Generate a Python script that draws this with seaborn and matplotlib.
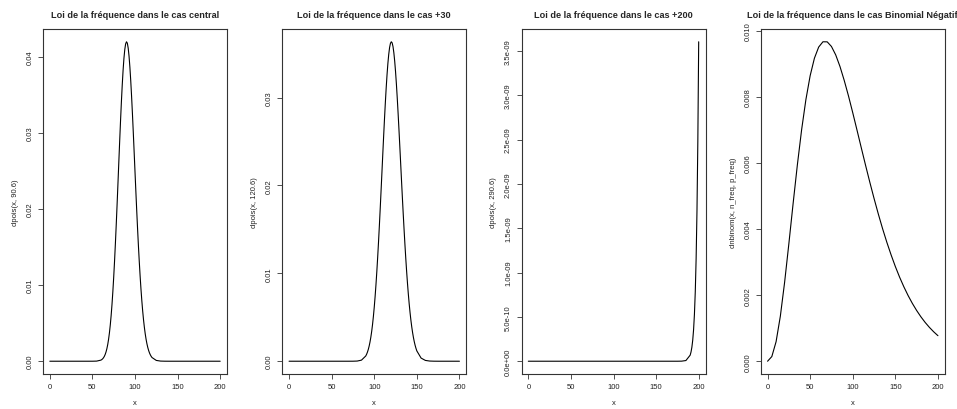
import matplotlib
matplotlib.use("Agg")
import matplotlib.pyplot as plt
import seaborn as sns

sns.set_style("white")
plt.rcParams['font.family'] = ['Liberation Sans', 'DejaVu Sans']

# dpois(x, 90.6): sparse in the tails, every integer around the peak
x_central = list(range(0, 60, 5)) + list(range(60, 121)) + list(range(125, 205, 5))
y_central = ([0] * 10 + [1.1e-6, 1.56e-5] +
             [1.45e-4, 2.15e-4, 3.14e-4, 4.51e-4, 6.39e-4, 8.91e-4, 1.223e-3, 1.654e-3,
              2.204e-3, 2.894e-3, 3.746e-3, 4.780e-3, 6.015e-3, 7.465e-3, 9.139e-3,
              0.01104, 0.01316, 0.01549, 0.01799, 0.02063, 0.02336, 0.02613, 0.02887,
              0.03151, 0.03399, 0.03623, 0.03817, 0.03975, 0.04092, 0.04166, 0.04194,
              0.04176, 0.04112, 0.04006, 0.03861, 0.03682, 0.03475, 0.03246, 0.03001,
              0.02746, 0.02488, 0.02232, 0.01982, 0.01744, 0.01519, 0.01311, 0.011205,
              0.009488, 0.007959, 0.006615, 0.005448, 0.004447, 0.003597, 0.002884,
              0.002292, 0.001806, 0.001411, 0.001092, 8.39e-4, 6.39e-4, 4.82e-4] +
             [1.05e-4, 1.85e-5, 2.7e-6] + [0] * 13)

# dpois(x, 120.6)
x_plus30 = list(range(0, 90, 5)) + list(range(90, 151)) + list(range(155, 205, 5))
y_plus30 = ([0] * 15 + [2.1e-6, 1.89e-5, 1.23e-4] +
            [5.94e-4, 7.87e-4, 1.032e-3, 1.338e-3, 1.716e-3, 2.178e-3, 2.736e-3, 3.402e-3,
             4.187e-3, 5.101e-3, 6.152e-3, 7.346e-3, 8.686e-3, 0.01017, 0.01179, 0.01354,
             0.01540, 0.01736, 0.01939, 0.02145, 0.02352, 0.02556, 0.02752, 0.02937,
             0.03107, 0.03258, 0.03387, 0.03491, 0.03568, 0.03616, 0.03634, 0.03622,
             0.03580, 0.03510, 0.03414, 0.03294, 0.03153, 0.02994, 0.02821, 0.02637,
             0.02446, 0.02252, 0.02057, 0.01865, 0.01679, 0.01500, 0.01330, 0.01171,
             0.01023, 0.008876, 0.007646, 0.006540, 0.005554, 0.004684, 0.003923,
             0.003263, 0.002695, 0.002211, 0.001802, 0.001458, 0.001172] +
            [3.57e-4, 9.24e-5, 2.05e-5, 3.9e-6] + [0] * 6)

# dpois(x, 290.6): only the far right end leaves zero
x_plus200 = list(range(0, 190, 5)) + list(range(190, 201))
y_plus200 = [0] * 36 + [7.7e-13, 7.7e-12,
             6.83e-11, 1.040e-10, 1.574e-10, 2.37e-10, 3.55e-10, 5.29e-10,
             7.84e-10, 1.157e-9, 1.698e-9, 2.480e-9, 3.603e-9]

# dnbinom(x, n_freq, p_freq)
x_nbinom = list(range(0, 205, 5))
y_nbinom = [3.2e-6, 1.442e-4, 5.935e-4, 1.364e-3, 2.386e-3, 3.556e-3, 4.772e-3, 5.943e-3,
            7.006e-3, 7.912e-3, 8.635e-3, 9.163e-3, 9.500e-3, 9.660e-3, 9.658e-3, 9.518e-3,
            9.263e-3, 8.913e-3, 8.491e-3, 8.022e-3, 7.515e-3, 6.989e-3, 6.457e-3, 5.931e-3,
            5.418e-3, 4.925e-3, 4.455e-3, 4.012e-3, 3.600e-3, 3.219e-3, 2.866e-3, 2.544e-3,
            2.253e-3, 1.988e-3, 1.750e-3, 1.537e-3, 1.346e-3, 1.176e-3, 1.026e-3, 8.93e-4,
            7.75e-4]

titles = ["Loi de la fréquence dans le cas central",
          "Loi de la fréquence dans le cas +30",
          "Loi de la fréquence dans le cas +200",
          "Loi de la fréquence dans le cas Binomial Négatif"]
ylabels = ["dpois(x, 90.6)", "dpois(x, 120.6)", "dpois(x, 290.6)",
           "dnbinom(x, n_freq, p_freq)"]
xticks = [0, 50, 100, 150, 200]
yticks = [[0, 0.01, 0.02, 0.03, 0.04],
          [0, 0.01, 0.02, 0.03],
          [0, 5e-10, 1e-9, 1.5e-9, 2e-9, 2.5e-9, 3e-9, 3.5e-9],
          [0, 0.002, 0.004, 0.006, 0.008, 0.010]]
ytick_labels = [["0.00", "0.01", "0.02", "0.03", "0.04"],
                ["0.00", "0.01", "0.02", "0.03"],
                ["0.0e+00", "5.0e-10", "1.0e-09", "1.5e-09", "2.0e-09",
                 "2.5e-09", "3.0e-09", "3.5e-09"],
                ["0.000", "0.002", "0.004", "0.006", "0.008", "0.010"]]
xs_all = [x_central, x_plus30, x_plus200, x_nbinom]
ys_all = [y_central, y_plus30, y_plus200, y_nbinom]

W, H = 957, 410
fig = plt.figure(figsize=(W / 100, H / 100), dpi=100)

for i in range(4):
    ax = fig.add_axes([(43 + 239.25 * i) / W, 35 / H, 184 / W, 345 / H])
    sns.lineplot(x=xs_all[i], y=ys_all[i], ax=ax, color="black", linewidth=0.8)

    # R style 4% padding around the data range
    ax.set_xlim(-8, 208)
    lo, hi = min(ys_all[i]), max(ys_all[i])
    pad = (hi - lo) * 0.04
    ax.set_ylim(lo - pad, hi + pad)

    ax.set_xticks(xticks)
    ax.set_xticklabels([str(t) for t in xticks])
    ax.set_yticks(yticks[i])
    ax.set_yticklabels(ytick_labels[i], rotation=90, va="center")

    for sp in ax.spines.values():
        sp.set_color("#333333")
        sp.set_linewidth(0.8)
    ax.tick_params(bottom=True, left=True, direction="out", length=3.6,
                   width=0.6, color="#333333", labelsize=5.5, pad=3.2,
                   labelcolor="#222222")

    ax.set_title(titles[i], fontsize=6.6, fontweight="bold", pad=8.5)
    ax.set_xlabel("x", fontsize=5.5, labelpad=6.5, color="#222222")
    ax.set_ylabel(ylabels[i], fontsize=5.5, labelpad=5.5, color="#222222")

fig.savefig("out.png", dpi=100)
